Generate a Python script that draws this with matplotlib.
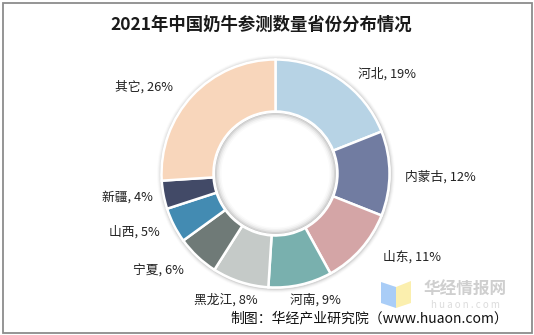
import matplotlib
matplotlib.use("Agg")
import matplotlib.pyplot as plt
from matplotlib.patches import Rectangle, Circle, Polygon, Wedge

plt.rcParams['font.family'] = ['Noto Sans CJK SC', 'DejaVu Sans']

# Share of dairy cows surveyed, by province (2021)
provinces = ["河北", "内蒙古", "山东", "河南", "黑龙江", "宁夏", "山西", "新疆", "其它"]
shares = [19, 12, 11, 9, 8, 6, 5, 4, 26]
colors = ["#b7d3e5", "#717ca1", "#d4a5a6", "#79b0ae", "#c5cac8",
          "#6f7a77", "#438bb2", "#424a67", "#f8d6bb"]

title = "2021年中国奶牛参测数量省份分布情况"
source = "制图：华经产业研究院（www.huaon.com）"

W, H = 534, 335
fig = plt.figure(figsize=(W / 100, H / 100), dpi=100)
ax = fig.add_axes([0, 0, 1, 1])


def py(y):
    # convert a top-down pixel row into the axes' bottom-up coordinate
    return H - y


cx, cy = 275.5, py(173.5)
r_out, r_in = 114, 62

wedges, _ = ax.pie(shares, colors=colors, startangle=90, counterclock=False,
                   center=(cx, cy), radius=r_out, frame=True,
                   wedgeprops=dict(width=r_out - r_in, edgecolor="white", linewidth=1.8))
for w in wedges:
    w.set_zorder(2)

# soft shadow just outside the ring
for i, a in enumerate([0.07, 0.045, 0.03, 0.015]):
    ax.add_patch(Wedge((cx + 0.5, cy - 0.5), r_out + 1.0 + (i + 1) * 1.0, 0, 360,
                       width=(i + 1) * 1.0 + 0.5, color="#000000", alpha=a, lw=0,
                       zorder=1))

# inner shadow along the edge of the hole
for i, a in enumerate([0.10, 0.07, 0.05, 0.03, 0.02]):
    ax.add_patch(Wedge((cx, cy), r_in - 0.8, 0, 360, width=1.2 + i * 1.5,
                       color="#000000", alpha=a, lw=0, zorder=3))
ax.add_patch(Circle((cx, cy), r_in - 0.9, fill=False, ec="white", lw=1.0, zorder=3))

ax.set_xlim(0, W)
ax.set_ylim(0, H)
ax.set_aspect("auto")
ax.axis("off")

# label anchors (left edge, vertical centre) in pixel rows
label_pos = [(358, 74), (405, 177), (383, 257), (290, 300), (194, 300),
             (133, 271), (109, 232), (102, 197), (115, 87)]
for name, val, (lx, ly) in zip(provinces, shares, label_pos):
    ax.text(lx, py(ly), f"{name}, {val}%", fontsize=9.2, color="#222222",
            ha="left", va="center", zorder=5)

ax.text(261, py(25), title, fontsize=12.5, fontweight="bold", color="#1a1a1a",
        ha="center", va="center")

# watermark
ax.add_patch(Polygon([(381, py(282)), (396, py(287)), (396, py(308)), (381, py(303))],
                     closed=True, color="#a9cdf7", lw=0, zorder=1))
ax.add_patch(Polygon([(396, py(287)), (411, py(281)), (411, py(303)), (396, py(308))],
                     closed=True, color="#fbefae", lw=0, zorder=1))
ax.text(465, py(290), "华经情报网", fontsize=12, fontweight="bold", color="#cfcfcf",
        ha="center", va="center", zorder=1)
ax.text(465, py(305), "h u a o n . c o m", fontsize=7, color="#dcdcdc",
        ha="center", va="center", zorder=1)

ax.text(508, py(318), source, fontsize=10, color="#111111", ha="right",
        va="center", zorder=5)

ax.add_patch(Rectangle((2.5, 2.5), W - 5, H - 5, fill=False, ec="#8c8c8c", lw=1.3,
                       zorder=6))

fig.savefig("out.png", dpi=100)
